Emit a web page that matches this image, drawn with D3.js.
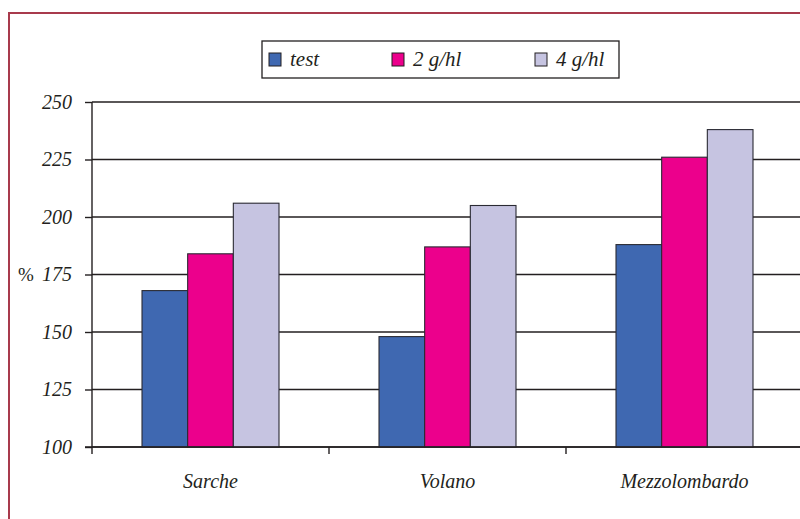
<!DOCTYPE html>
<html>
<head>
<meta charset="utf-8">
<script src="https://cdn.jsdelivr.net/npm/d3@7"></script>
<style>
  html, body { margin: 0; padding: 0; background: #fff; }
  svg { display: block; }
</style>
</head>
<body>
<svg id="chart" width="800" height="519"></svg>
<script>
// Sites and treatments
const categories = ["Sarche", "Volano", "Mezzolombardo"];
const seriesNames = ["test", "2 g/hl", "4 g/hl"];
const seriesColors = ["#3f68b1", "#ec008c", "#c6c4e1"];

// Values per treatment, in site order (%)
const testValues = [168, 148, 188];
const dose2Values = [184, 187, 226];
const dose4Values = [206, 205, 238];

const yTicks = [100, 125, 150, 175, 200, 225, 250];

const seriesValues = [testValues, dose2Values, dose4Values];

const SERIF = '"Liberation Serif", "DejaVu Serif", serif';
const INK = "#231f20";

const svg = d3.select("#chart");

function styleText(sel, size) {
  return sel
    .attr("font-family", SERIF)
    .attr("font-style", "italic")
    .attr("font-size", size)
    .attr("fill", INK);
}

// Outer frame
svg.append("rect")
  .attr("x", 9).attr("y", 13)
  .attr("width", 820).attr("height", 540)
  .attr("fill", "none")
  .attr("stroke", "#a83a4c")
  .attr("stroke-width", 2);

const plot = { left: 92, right: 803, top: 102, bottom: 447 };

const y = d3.scaleLinear().domain([100, 250]).range([plot.bottom, plot.top]);
const x0 = d3.scaleBand().domain(categories).range([plot.left, plot.right]).padding(0);
const groupW = x0.bandwidth() * 0.578;
const x1 = d3.scaleBand().domain(seriesNames).range([0, groupW]).padding(0);

// Horizontal gridlines
svg.append("g")
  .selectAll("line")
  .data(yTicks)
  .join("line")
  .attr("x1", plot.left).attr("x2", plot.right)
  .attr("y1", d => y(d)).attr("y2", d => y(d))
  .attr("stroke", INK)
  .attr("stroke-width", 1.4);

// Y axis with left ticks
const yAxis = d3.axisLeft(y).tickValues(yTicks).tickSize(7).tickPadding(13);
const gy = svg.append("g")
  .attr("transform", `translate(${plot.left},0)`)
  .call(yAxis);
gy.attr("font-family", SERIF).attr("font-size", 20);
gy.select(".domain").attr("stroke", INK).attr("stroke-width", 1.4)
  .attr("d", `M0,${plot.top}V${plot.bottom + 7}`);
gy.selectAll(".tick line").attr("stroke", INK).attr("stroke-width", 1.4);
styleText(gy.selectAll(".tick text"), 20);

// Bars
const groups = svg.append("g")
  .selectAll("g")
  .data(categories)
  .join("g")
  .attr("transform", d => `translate(${x0(d) + (x0.bandwidth() - groupW) / 2},0)`);

groups.selectAll("rect")
  .data((d, i) => seriesNames.map((s, j) => ({ s, v: seriesValues[j][i], c: seriesColors[j] })))
  .join("rect")
  .attr("x", d => x1(d.s))
  .attr("y", d => y(d.v))
  .attr("width", x1.bandwidth())
  .attr("height", d => y(100) - y(d.v))
  .attr("fill", d => d.c)
  .attr("stroke", "#2a2a33")
  .attr("stroke-width", 1.1);

// X axis with category boundary ticks
const gx = svg.append("g");
gx.append("line")
  .attr("x1", plot.left - 7).attr("x2", plot.right)
  .attr("y1", plot.bottom).attr("y2", plot.bottom)
  .attr("stroke", INK).attr("stroke-width", 1.4);
gx.selectAll("line.tk")
  .data(categories.slice(1))
  .join("line")
  .attr("class", "tk")
  .attr("x1", d => x0(d)).attr("x2", d => x0(d))
  .attr("y1", plot.bottom).attr("y2", plot.bottom + 7)
  .attr("stroke", INK).attr("stroke-width", 1.4);
styleText(gx.selectAll("text")
  .data(categories)
  .join("text")
  .attr("x", d => x0(d) + x0.bandwidth() / 2)
  .attr("y", 488)
  .attr("text-anchor", "middle")
  .text(d => d), 20);

// Y axis title
svg.append("text")
  .attr("x", 18).attr("y", 281)
  .attr("font-family", SERIF)
  .attr("font-size", 19)
  .attr("fill", INK)
  .text("%");

// Legend
const legend = svg.append("g");
legend.append("rect")
  .attr("x", 262).attr("y", 41)
  .attr("width", 357).attr("height", 37)
  .attr("fill", "#fff")
  .attr("stroke", INK)
  .attr("stroke-width", 1.3);
const legendX = [269, 392, 535];
const items = legend.selectAll("g")
  .data(seriesNames)
  .join("g")
  .attr("transform", (d, i) => `translate(${legendX[i]},53)`);
items.append("rect")
  .attr("width", 12).attr("height", 13)
  .attr("fill", (d, i) => seriesColors[i])
  .attr("stroke", INK)
  .attr("stroke-width", 1);
styleText(items.append("text")
  .attr("x", 21).attr("y", 13)
  .text(d => d), 21);
</script>
</body>
</html>
